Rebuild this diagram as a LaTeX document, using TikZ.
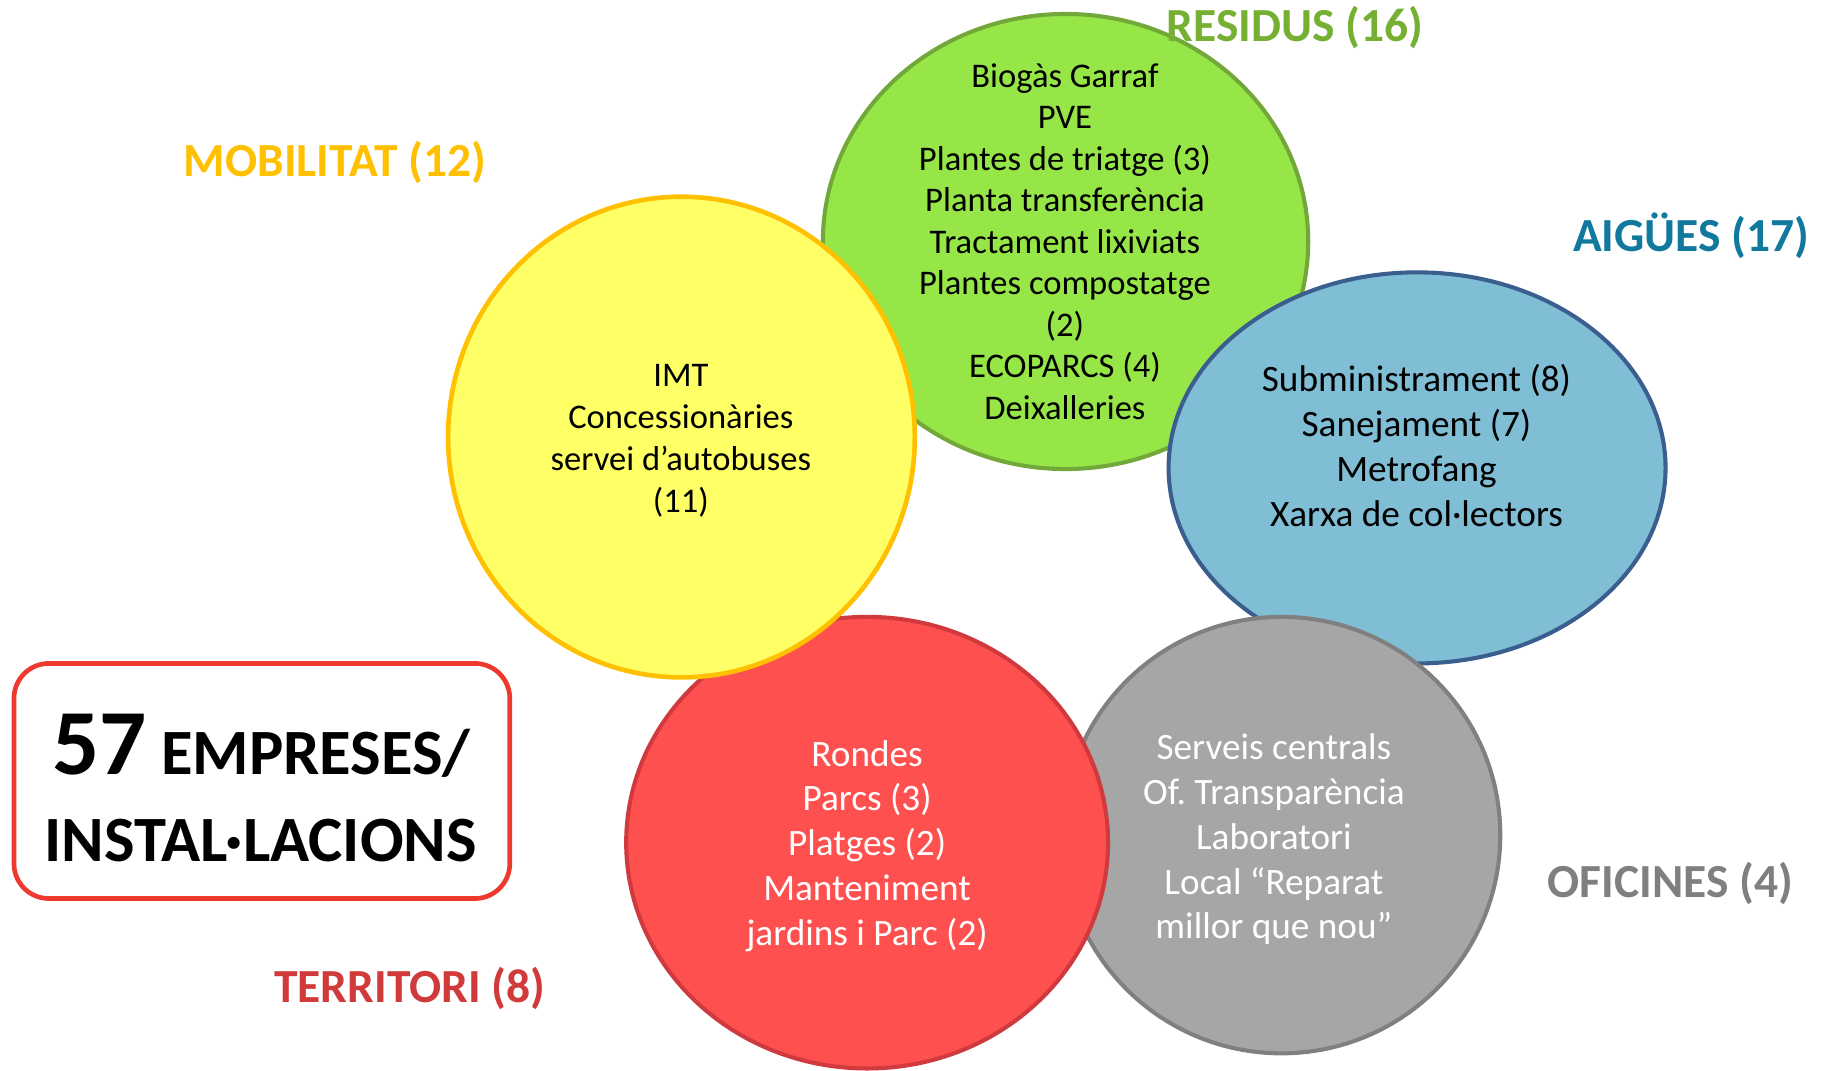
\documentclass[tikz,border=0pt]{standalone}
\usepackage{fontspec}
\setmainfont{Carlito}
\frenchspacing
\usetikzlibrary{shapes.geometric}
\definecolor{gfill}{HTML}{96E648}
\definecolor{gline}{HTML}{72A83A}
\definecolor{yfill}{HTML}{FFFF66}
\definecolor{yline}{HTML}{FFC000}
\definecolor{bfill}{HTML}{7FBED4}
\definecolor{bline}{HTML}{3A5F8F}
\definecolor{rfill}{HTML}{FF5050}
\definecolor{rline}{HTML}{D0393D}
\definecolor{kfill}{HTML}{A6A6A6}
\definecolor{kline}{HTML}{808080}
\definecolor{lresidus}{HTML}{76B032}
\definecolor{lmobil}{HTML}{FFC000}
\definecolor{laigues}{HTML}{12799E}
\definecolor{lofic}{HTML}{7F7F7F}
\definecolor{lterr}{HTML}{D03A3A}
\definecolor{boxred}{HTML}{EE3A2E}
\begin{document}
\begin{tikzpicture}[x=1pt,y=-1pt,
  blob/.style={ellipse, line width=3.5pt, inner sep=0pt},
  bodytxt/.style={align=center, inner sep=0pt, font=\fontsize{29.7}{35.7}\selectfont},
  bigtxt/.style={align=center, inner sep=0pt, font=\fontsize{32}{38.6}\selectfont},
  cattxt/.style={anchor=base, inner sep=0pt, font=\fontsize{40.8}{48}\selectfont\bfseries},
  boxtxt/.style={anchor=base, inner sep=0pt, font=\fontsize{55.5}{60}\selectfont\bfseries}]
\useasboundingbox (0,0) rectangle (1568,920);
\fill[white] (0,0) rectangle (1568,920);
% circles, back to front
\node[blob, fill=gfill, draw=gline, minimum width=417pt, minimum height=391pt] (residus) at (915.5,207.5) {};
\node[blob, fill=bfill, draw=bline, minimum width=427pt, minimum height=336pt] (aigues) at (1217.5,402) {};
\node[blob, fill=kfill, draw=kline, minimum width=376pt, minimum height=375pt] (oficines) at (1101,717.5) {};
\node[blob, fill=rfill, draw=rline, minimum width=414pt, minimum height=388pt] (territori) at (745,724) {};
\node[blob, fill=yfill, draw=yline, line width=4pt, minimum width=401pt, minimum height=413pt] (mobilitat) at (585.5,375.5) {};
% texts in circles
\node[bodytxt] (tresidus) at (915,207.5) {Biogàs Garraf\\PVE\\Plantes de triatge (3)\\Planta transferència\\Tractament lixiviats\\Plantes compostatge\\(2)\\ECOPARCS (4)\\Deixalleries};
\node[bodytxt, font=\fontsize{29.7}{36}\selectfont] (tmobil) at (585,379) {IMT\\Concessionàries\\servei d’autobuses\\(11)};
\node[bigtxt] (taigues) at (1217,382.5) {Subministrament (8)\\Sanejament (7)\\Metrofang\\Xarxa de col·lectors};
\node[bigtxt, text=white] (tterr) at (745,727) {Rondes\\Parcs (3)\\Platges (2)\\Manteniment\\jardins i Parc (2)};
\node[bigtxt, text=white] (tofic) at (1094.5,721) {Serveis centrals\\Of. Transparència\\Laboratori\\Local “Reparat\\millor que nou”};
% category labels
\node[cattxt, text=lresidus] (lres) at (1112.5,36) {RESIDUS (16)};
\node[cattxt, text=lmobil] (lmob) at (288,152) {MOBILITAT (12)};
\node[cattxt, text=laigues] (laig) at (1453,216) {AIGÜES (17)};
\node[cattxt, text=lofic] (lofi) at (1435,771) {OFICINES (4)};
\node[cattxt, text=lterr] (lter) at (352,861) {TERRITORI (8)};
% total box
\node[draw=boxred, line width=4pt, rounded corners=30pt, minimum width=426pt, minimum height=202pt, fill=white] (total) at (225,671) {};
\node[boxtxt] (t57) at (224.5,665) {{\fontsize{80}{82}\selectfont 57} EMPRESES/};
\node[boxtxt] (tinst) at (224,740) {INSTAL·LACIONS};
\end{tikzpicture}
\end{document}
